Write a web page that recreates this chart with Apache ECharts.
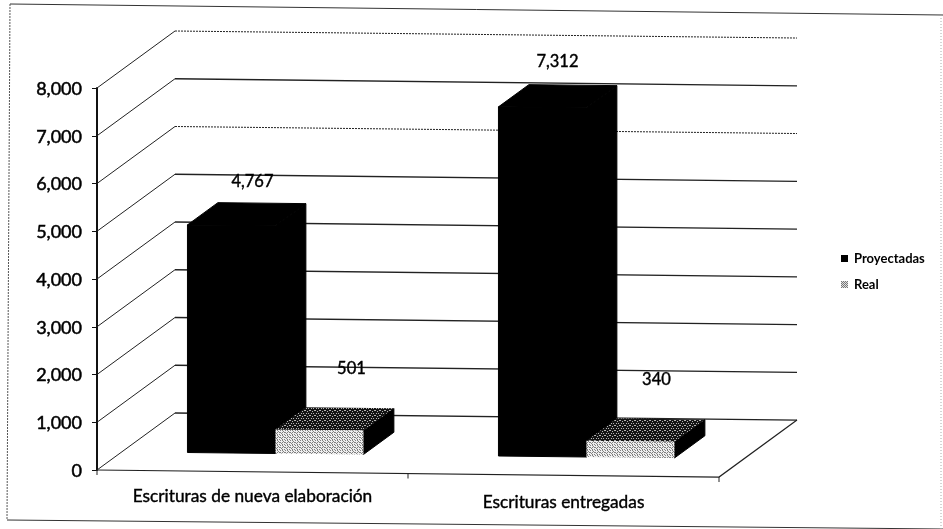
<!DOCTYPE html>
<html>
<head>
<meta charset="utf-8">
<script src="https://cdn.jsdelivr.net/npm/echarts@6/dist/echarts.min.js"></script>
<style>
html, body { margin: 0; padding: 0; background: #fff; }
#chart { width: 943px; height: 529px; }
</style>
</head>
<body>
<div id="chart"></div>
<script>
var categories = ["Escrituras de nueva elaboración", "Escrituras entregadas"];
var proyectadas = [4767, 7312];
var real = [501, 340];
var yTicks = [0, 1000, 2000, 3000, 4000, 5000, 6000, 7000, 8000];

// fake 3d box settings
var depthX = 78, depthY = 57, skew = 0.0113;
var barDepthFront = 0.32, barDepthBack = 0.71, barW = 88, barShift = -2;
var gridLeft = 97, gridRight = 224, gridTop = 88, gridBottom = 59;
var FONT = "Lato";

function makeDither(bg, dot, rows) {
    var c = document.createElement("canvas");
    c.width = rows[0].length;
    c.height = rows.length;
    var g = c.getContext("2d");
    g.fillStyle = bg;
    g.fillRect(0, 0, c.width, c.height);
    g.fillStyle = dot;
    rows.forEach(function (row, y) {
        row.split("").forEach(function (ch, x) {
            if (ch === "x") g.fillRect(x, y, 1, 1);
        });
    });
    return { image: c, repeat: "repeat" };
}
var lightFill = makeDither("#eeeeee", "#808080", ["x.x..", "...x.", "x.x.x", ".x...", "..x.x"]);
var darkFill = makeDither("#141414", "#b4b4b4", ["x...x", "..x..", ".....", ".x.x.", "....."]);
var legendFill = makeDither("#dddddd", "#777777", ["x.", ".x"]);

function project(api, px, value, depth) {
    var y = api.coord([0, value])[1];
    return [px + depth * depthX, y + (px - gridLeft) * skew - depth * depthY];
}

function renderWall(params, api) {
    var v = api.value(1), cs = params.coordSys;
    var dash = (v === 6000 || v === 8000) ? [2, 1] : null;
    var corner = project(api, cs.x, v, 1);
    return {
        type: "group",
        silent: true,
        children: [
            {
                type: "polyline",
                shape: { points: [project(api, cs.x, v, 0), corner] },
                style: { fill: null, stroke: "#222", lineWidth: 1 }
            },
            {
                type: "polyline",
                shape: { points: [corner, project(api, cs.x + cs.width, v, 1)] },
                style: { fill: null, stroke: "#222", lineWidth: dash ? 1 : 1.3, lineDash: dash }
            }
        ]
    };
}

function renderFloor(params, api) {
    var cs = params.coordSys, right = cs.x + cs.width, mid = cs.x + cs.width / 2;
    var kids = [{
        type: "polyline",
        shape: { points: [project(api, cs.x, 0, 0), project(api, right, 0, 0), project(api, right, 0, 1)] },
        style: { fill: null, stroke: "#222", lineWidth: 1.2 }
    }];
    [cs.x, mid, right].forEach(function (x) {
        var p = project(api, x, 0, 0);
        kids.push({ type: "line", shape: { x1: p[0], y1: p[1], x2: p[0], y2: p[1] + 5 }, style: { stroke: "#222", lineWidth: 1 } });
    });
    return { type: "group", silent: true, children: kids };
}

function boxRenderer(side, frontFill, topFill, sideFill, labelShift) {
    return function (params, api) {
        var cat = api.value(0), v = api.value(1);
        var center = api.coord([cat, 0])[0] + barShift;
        var x0 = side < 0 ? center - barW : center;
        var x1 = x0 + barW;
        var a = project(api, x0, 0, barDepthFront), b = project(api, x1, 0, barDepthFront);
        var c = project(api, x1, v, barDepthFront), d = project(api, x0, v, barDepthFront);
        var e = project(api, x0, v, barDepthBack), f = project(api, x1, v, barDepthBack);
        var g = project(api, x1, 0, barDepthBack);
        var shift = labelShift[params.dataIndex];
        return {
            type: "group",
            children: [
                { type: "polygon", shape: { points: [b, g, f, c] }, style: { fill: sideFill, stroke: sideFill, lineWidth: 1 } },
                { type: "polygon", shape: { points: [d, c, f, e] }, style: { fill: topFill, stroke: topFill === "#000" ? "#000" : null, lineWidth: 1 } },
                { type: "polygon", shape: { points: [a, b, c, d] }, style: { fill: frontFill, stroke: frontFill === "#000" ? "#000" : null, lineWidth: 1 } },
                {
                    type: "text",
                    x: (d[0] + c[0]) / 2 + shift[0],
                    y: d[1] + shift[1],
                    style: {
                        text: v.toLocaleString("en-US"), fill: "#000", font: "16.5px " + FONT,
                        stroke: "#000", lineWidth: 0.4,
                        textAlign: "center", textVerticalAlign: "middle"
                    }
                }
            ]
        };
    };
}

var chart = echarts.init(document.getElementById("chart"));
chart.setOption({
    animation: false,
    backgroundColor: "#fff",
    grid: { left: gridLeft, right: gridRight, top: gridTop, bottom: gridBottom },
    legend: {
        left: 836,
        top: 247,
        orient: "vertical",
        itemWidth: 7,
        itemHeight: 7,
        itemGap: 13,
        selectedMode: false,
        textStyle: { fontFamily: FONT, fontSize: 13, fontWeight: "bold", color: "#000", padding: [0, 0, 0, 1] },
        data: [
            { name: "Proyectadas", icon: "rect", itemStyle: { color: "#000" } },
            { name: "Real", icon: "rect", itemStyle: { color: legendFill } }
        ]
    },
    xAxis: {
        type: "category",
        data: [
            { value: categories[0] },
            { value: categories[1], textStyle: { padding: [6, 0, 0, 0] } }
        ],
        axisLine: { show: false },
        axisTick: { show: false },
        axisLabel: {
            margin: 18, interval: 0, color: "#000", fontFamily: FONT, fontSize: 17.3,
            textBorderColor: "#000", textBorderWidth: 0.4
        }
    },
    yAxis: {
        type: "value",
        min: 0,
        max: 8000,
        interval: 1000,
        splitLine: { show: false },
        axisLine: { show: true, lineStyle: { color: "#111", width: 2 } },
        axisTick: { show: true, length: 5, lineStyle: { color: "#111" } },
        axisLabel: {
            margin: 15, color: "#000", fontFamily: FONT, fontSize: 18,
            textBorderColor: "#000", textBorderWidth: 0.5,
            verticalAlign: "top", padding: [-8, 0, 0, 0],
            formatter: function (v) { return v.toLocaleString("en-US"); }
        }
    },
    series: [
        { type: "custom", name: "wall", z: 1, renderItem: renderWall, data: yTicks.map(function (t) { return [0, t]; }) },
        { type: "custom", name: "floor", z: 1, renderItem: renderFloor, data: [[0, 0]] },
        {
            type: "custom", name: "Proyectadas", z: 3, itemStyle: { color: "#000" },
            renderItem: boxRenderer(-1, "#000", "#000", "#000", [[21, -43], [15, -45]]),
            data: proyectadas.map(function (v, i) { return [i, v]; })
        },
        {
            type: "custom", name: "Real", z: 4, itemStyle: { color: "#999" },
            renderItem: boxRenderer(1, lightFill, darkFill, "#000", [[32, -61], [26, -61]]),
            data: real.map(function (v, i) { return [i, v]; })
        }
    ],
    graphic: [
        { type: "polyline", silent: true, shape: { points: [[10, 4], [943, 15]] }, style: { fill: null, stroke: "#333", lineWidth: 1 } },
        { type: "polyline", silent: true, shape: { points: [[10, 4], [7, 520]] }, style: { fill: null, stroke: "#555", lineWidth: 1, lineDash: [2, 1] } },
        { type: "polyline", silent: true, shape: { points: [[7, 520], [943, 529]] }, style: { fill: null, stroke: "#333", lineWidth: 1 } },
        { type: "polyline", silent: true, shape: { points: [[941, 15], [941, 529]] }, style: { fill: null, stroke: "#aaa", lineWidth: 1, lineDash: [1, 2] } }
    ]
});
</script>
</body>
</html>
